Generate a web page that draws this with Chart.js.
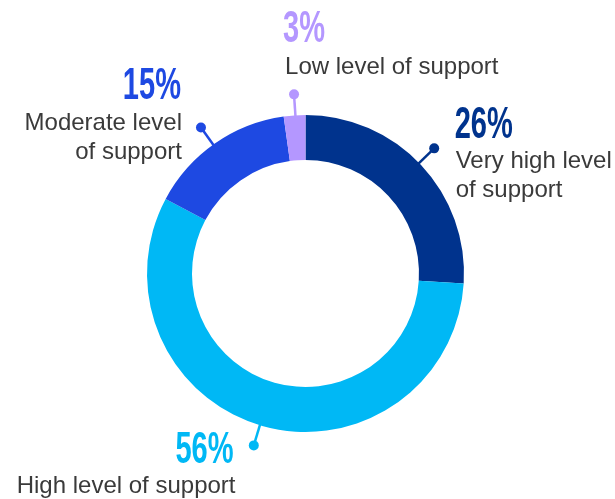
<!DOCTYPE html>
<html>
<head>
<meta charset="utf-8">
<script src="https://cdn.jsdelivr.net/npm/chart.js@4.4.1/dist/chart.umd.min.js"></script>
<style>
  html, body { margin: 0; padding: 0; background: #fff; }
  canvas { display: block; }
</style>
</head>
<body>
<canvas id="donut" width="615" height="499"></canvas>
<script>
// data, clockwise from 12 o'clock
const categorias = ['Very high level of support', 'High level of support', 'Moderate level of support', 'Low level of support'];
// arc shares as measured on the ring; printed percentages below
const valores = [26, 56.8, 15, 2.2];
const rotulosPct = ['26%', '56%', '15%', '3%'];
const linhasRotulo = [['Very high level', 'of support'], ['High level of support'], ['Moderate level', 'of support'], ['Low level of support']];
const cores = ['#00338D', '#00B8F5', '#1E49E2', '#B497FF'];

// where each label sits, relative to its dot (da = small angle tweak, degrees)
const posRotulo = [
  { da: -1.0, align: 'left',  px: 20.5,  pctY: -10, tx: 21.5,  linhasY: [20, 49] },
  { da: 0.9,  align: 'right', px: -20.3, pctY: 18,  tx: -18.3, linhasY: [48] },
  { da: -0.7, align: 'right', px: -20,   pctY: -29, tx: -19,   linhasY: [2, 31] },
  { da: 0.3,  align: 'left',  px: -11,   pctY: -52, tx: -9,    linhasY: [-20] }
];

function textoCondensado(ctx, texto, x, y, align, sx) {
  ctx.save();
  ctx.translate(x, y);
  ctx.scale(sx, 1);
  ctx.textAlign = align;
  ctx.fillText(texto, 0, 0);
  ctx.restore();
}

const pluginRotulos = {
  id: 'rotulos',
  afterDatasetsDraw(chart) {
    const ctx = chart.ctx;
    const meta = chart.getDatasetMeta(0);
    meta.data.forEach((arc, i) => {
      const p = arc.getProps(['x', 'y', 'startAngle', 'endAngle', 'outerRadius'], true);
      const pos = posRotulo[i];
      const meio = (p.startAngle + p.endAngle) / 2 + pos.da * Math.PI / 180;
      const c = Math.cos(meio), s = Math.sin(meio);
      const x1 = p.x + c * (p.outerRadius - 2), y1 = p.y + s * (p.outerRadius - 2);
      const dx = p.x + c * (p.outerRadius + 21), dy = p.y + s * (p.outerRadius + 21);

      ctx.save();
      ctx.strokeStyle = cores[i];
      ctx.fillStyle = cores[i];
      ctx.lineWidth = 2.5;
      ctx.beginPath();
      ctx.moveTo(x1, y1);
      ctx.lineTo(dx, dy);
      ctx.stroke();
      ctx.beginPath();
      ctx.arc(dx, dy, 5, 0, Math.PI * 2);
      ctx.fill();

      ctx.textBaseline = 'alphabetic';
      ctx.font = 'bold 44px "Liberation Sans", Arial, sans-serif';
      textoCondensado(ctx, rotulosPct[i], dx + pos.px, dy + pos.pctY, pos.align, 0.66);

      ctx.fillStyle = '#3a3a3a';
      ctx.font = '24px "Liberation Sans", Arial, sans-serif';
      ctx.textAlign = pos.align;
      linhasRotulo[i].forEach((linha, k) => {
        ctx.fillText(linha, dx + pos.tx, dy + pos.linhasY[k]);
      });
      ctx.restore();
    });
  }
};

const ctx = document.getElementById('donut');
new Chart(ctx, {
  type: 'doughnut',
  data: {
    labels: categorias,
    datasets: [{
      data: valores,
      backgroundColor: cores,
      borderWidth: 0
    }]
  },
  options: {
    responsive: false,
    animation: false,
    cutout: '71.6%',
    layout: { padding: { top: 115, bottom: 67, left: 147, right: 151 } },
    plugins: {
      legend: { display: false },
      tooltip: { enabled: false }
    }
  },
  plugins: [pluginRotulos]
});
</script>
</body>
</html>
